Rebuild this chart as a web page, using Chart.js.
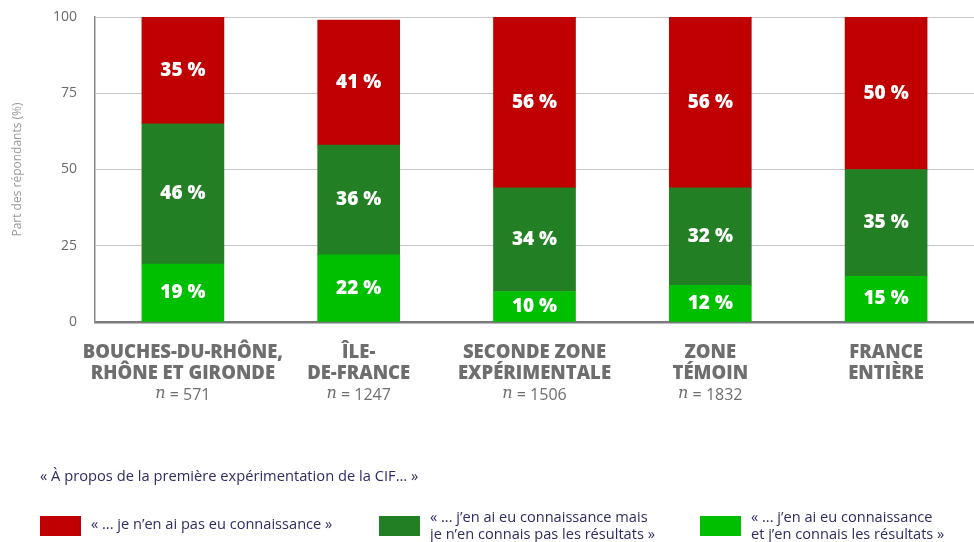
<!DOCTYPE html>
<html>
<head>
<meta charset="utf-8">
<script src="https://cdn.jsdelivr.net/npm/chart.js@4/dist/chart.umd.min.js"></script>
<style>
  html, body { margin: 0; padding: 0; background: #fff; }
  #wrap { width: 974px; height: 542px; }
</style>
</head>
<body>
<div id="wrap"><canvas id="myChart" width="974" height="542"></canvas></div>
<script>
// categories (x-axis) and sample sizes
var categories = [
  ["BOUCHES-DU-RHÔNE,", "RHÔNE ET GIRONDE"],
  ["ÎLE-", "DE-FRANCE"],
  ["SECONDE ZONE", "EXPÉRIMENTALE"],
  ["ZONE", "TÉMOIN"],
  ["FRANCE", "ENTIÈRE"]
];
var sampleSizes = [571, 1247, 1506, 1832, null];
// shares in %
var connaitResultats = [19, 22, 10, 12, 15];
var connaitPasResultats = [46, 36, 34, 32, 35];
var pasConnaissance = [35, 41, 56, 56, 50];
var yTicks = [0, 25, 50, 75, 100];

var legendTitle = "« À propos de la première expérimentation de la CIF... »";
var labelRed = "« ... je n’en ai pas eu connaissance »";
var labelDark = "« ... j’en ai eu connaissance mais\nje n’en connais pas les résultats »";
var labelLight = "« ... j’en ai eu connaissance\net j’en connais les résultats »";

var RED = "#c00000", DARK = "#237f23", LIGHT = "#00bf00";
var FONT = "'Open Sans', Lato, sans-serif";

// white value labels in the middle of each segment
var barLabels = {
  id: "barLabels",
  afterDatasetsDraw: function (chart) {
    var ctx = chart.ctx;
    ctx.save();
    ctx.fillStyle = "#fff";
    ctx.font = "800 19px " + FONT;
    ctx.textAlign = "center";
    ctx.textBaseline = "middle";
    chart.data.datasets.forEach(function (ds, i) {
      chart.getDatasetMeta(i).data.forEach(function (bar, j) {
        ctx.fillText(ds.data[j] + " %", bar.x, (bar.y + bar.base) / 2);
      });
    });
    ctx.restore();
  }
};

// category labels with the "n = ..." line under them
var catLabels = {
  id: "catLabels",
  afterDraw: function (chart) {
    var ctx = chart.ctx, xs = chart.scales.x;
    var top = chart.chartArea.bottom;
    ctx.save();
    ctx.textBaseline = "middle";
    categories.forEach(function (lines, i) {
      var x = xs.getPixelForValue(i);
      ctx.fillStyle = "#6e6e6e";
      ctx.textAlign = "center";
      ctx.font = "800 18.5px " + FONT;
      lines.forEach(function (t, k) {
        ctx.fillText(t, x, top + 31 + k * 21);
      });
      if (sampleSizes[i] != null) {
        var y = top + 73;
        var nFont = "italic 16px 'DejaVu Serif', serif";
        var rFont = "16px " + FONT;
        ctx.font = nFont;
        var wn = ctx.measureText("n").width;
        ctx.font = rFont;
        var rest = " = " + sampleSizes[i];
        var wr = ctx.measureText(rest).width;
        var x0 = x - (wn + wr) / 2;
        ctx.textAlign = "left";
        ctx.font = nFont;
        ctx.fillText("n", x0, y - 1);
        ctx.font = rFont;
        ctx.fillText(rest, x0 + wn, y);
      }
    });
    ctx.restore();
  }
};

// legend below the chart
var legendBlock = {
  id: "legendBlock",
  afterDraw: function (chart) {
    var ctx = chart.ctx;
    var items = [
      { color: RED, text: labelRed, x: 40 },
      { color: DARK, text: labelDark, x: 379 },
      { color: LIGHT, text: labelLight, x: 700 }
    ];
    ctx.save();
    ctx.fillStyle = "#2e2c63";
    ctx.textAlign = "left";
    ctx.textBaseline = "middle";
    ctx.font = "14.7px " + FONT;
    ctx.fillText(legendTitle, 40, 477);
    ctx.font = "14.6px " + FONT;
    items.forEach(function (it) {
      ctx.fillStyle = it.color;
      ctx.fillRect(it.x, 516, 41, 20);
      ctx.fillStyle = "#2e2c63";
      var lines = it.text.split("\n");
      var y0 = lines.length === 1 ? 525 : 518;
      lines.forEach(function (t, k) {
        ctx.fillText(t, it.x + 51, y0 + k * 17);
      });
    });
    ctx.restore();
  }
};

var ctx = document.getElementById("myChart");

var myChart = new Chart(ctx, {
  type: "bar",
  data: {
    labels: categories.map(function (c) { return c.join(" "); }),
    datasets: [
      { data: connaitResultats, label: labelLight, backgroundColor: LIGHT },
      { data: connaitPasResultats, label: labelDark, backgroundColor: DARK },
      { data: pasConnaissance, label: labelRed, backgroundColor: RED }
    ]
  },
  options: {
    responsive: false,
    animation: false,
    layout: { padding: { top: 17, right: 0, left: 0, bottom: 0 } },
    plugins: { legend: { display: false }, tooltip: { enabled: false } },
    datasets: { bar: { barThickness: 82 } },
    scales: {
      x: {
        stacked: true,
        grid: { display: false },
        border: { color: "#7a7a7a", width: 2.5 },
        ticks: { display: false },
        afterFit: function (s) { s.height = 220; s.paddingLeft = 0; s.paddingRight = 0; }
      },
      y: {
        stacked: true,
        min: 0,
        max: 100,
        afterBuildTicks: function (s) { s.ticks = yTicks.map(function (v) { return { value: v }; }); },
        ticks: { color: "#6a6a6a", font: { size: 14, family: FONT }, padding: 18 },
        grid: { color: "#c8c8c8", drawTicks: false },
        border: { color: "#8a8a8a", width: 1.5 },
        title: {
          display: true,
          text: "Part des répondants (%)",
          color: "#9a9a9a",
          font: { size: 12, family: FONT },
          padding: { top: 10, bottom: 0 }
        },
        afterFit: function (s) { s.width = 95; s.paddingTop = 0; s.paddingBottom = 0; }
      }
    }
  },
  plugins: [barLabels, catLabels, legendBlock]
});
</script>
</body>
</html>
